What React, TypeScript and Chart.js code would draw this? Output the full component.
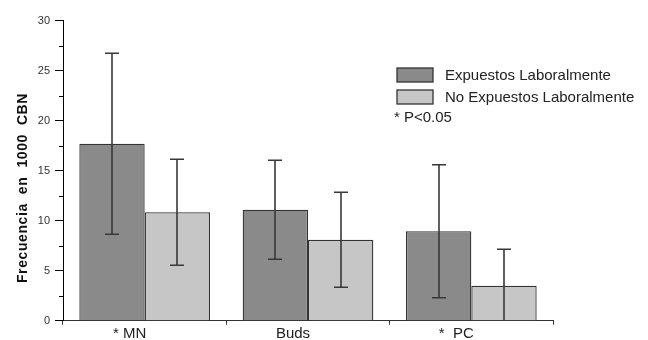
import React, { useEffect, useRef } from 'react';
import { Chart, registerables } from 'chart.js';

Chart.register(...registerables);

// ---- data ----
const categories = ['* MN', 'Buds', '*  PC'];
const seriesNames = ['Expuestos Laboralmente', 'No Expuestos Laboralmente'];
const expuestos = [17.7, 11.1, 8.95];
const expuestosErr = [9.05, 4.95, 6.65];
const noExpuestos = [10.85, 8.1, 3.5];
const noExpuestosErr = [5.3, 4.75, 3.65];
const yMin = 0;
const yMax = 30;
const yStep = 5;
const yTitle = 'Frecuencia  en  1000  CBN';
const noteText = '* P<0.05';

const errorsBySeries = [expuestosErr, noExpuestosErr];
const fillColors = ['#8a8a8a', '#c6c6c6'];

const FONT = '"Liberation Sans", Arial, sans-serif';

const errorBarsPlugin = {
  id: 'errorBars',
  afterDatasetsDraw(chart: any) {
    const { ctx, chartArea } = chart;
    const y = chart.scales.y;
    ctx.save();
    ctx.beginPath();
    ctx.rect(chartArea.left, chartArea.top, chartArea.right - chartArea.left, chartArea.bottom - chartArea.top);
    ctx.clip();
    ctx.strokeStyle = '#383838';
    ctx.lineWidth = 1.6;
    chart.data.datasets.forEach((ds: any, di: number) => {
      const meta = chart.getDatasetMeta(di);
      const errs = errorsBySeries[di];
      meta.data.forEach((bar: any, i: number) => {
        const v = ds.data[i];
        const e = errs[i];
        const x = Math.round(bar.x);
        const yt = y.getPixelForValue(v + e);
        const yb = y.getPixelForValue(v - e);
        ctx.beginPath();
        ctx.moveTo(x, yt);
        ctx.lineTo(x, yb);
        ctx.moveTo(x - 7, yt);
        ctx.lineTo(x + 7, yt);
        ctx.moveTo(x - 7, yb);
        ctx.lineTo(x + 7, yb);
        ctx.stroke();
      });
    });
    ctx.restore();
  },
};

const decorPlugin = {
  id: 'decor',
  afterDraw(chart: any) {
    const { ctx, chartArea } = chart;
    const y = chart.scales.y;
    ctx.save();
    // minor ticks on y axis
    ctx.strokeStyle = '#000';
    ctx.lineWidth = 1;
    for (let v = yMin + yStep / 2; v < yMax; v += yStep) {
      const py = Math.round(y.getPixelForValue(v)) + 0.5;
      ctx.beginPath();
      ctx.moveTo(chartArea.left - 4, py);
      ctx.lineTo(chartArea.left, py);
      ctx.stroke();
    }
    // y title
    ctx.save();
    ctx.translate(23, 188);
    ctx.rotate(-Math.PI / 2);
    ctx.font = `bold 14px ${FONT}`;
    ctx.fillStyle = '#111';
    ctx.textAlign = 'center';
    ctx.textBaseline = 'middle';
    try { (ctx as any).letterSpacing = '0.6px'; } catch (e) {}
    ctx.fillText(yTitle, 0, 0);
    ctx.restore();
    // legend
    ctx.font = `15px ${FONT}`;
    ctx.textAlign = 'left';
    ctx.textBaseline = 'middle';
    const boxX = 397;
    const rows = [75, 97];
    seriesNames.forEach((name, i) => {
      const cy = rows[i];
      ctx.fillStyle = fillColors[i];
      ctx.fillRect(boxX, cy - 7, 36, 14);
      ctx.strokeStyle = '#333';
      ctx.lineWidth = 1.3;
      ctx.strokeRect(boxX, cy - 7, 36, 14);
      ctx.fillStyle = '#222';
      ctx.fillText(name, 445, cy + 1);
    });
    ctx.fillStyle = '#222';
    ctx.fillText(noteText, 394, 118);
    ctx.restore();
  },
};

export default function App() {
  const ref = useRef<HTMLCanvasElement | null>(null);
  useEffect(() => {
    if (!ref.current) return;
    const chart = new Chart(ref.current, {
      type: 'bar',
      data: {
        labels: categories,
        datasets: [
          {
            label: seriesNames[0],
            data: expuestos,
            backgroundColor: fillColors[0],
            borderColor: '#333',
            borderWidth: 1.3,
            barPercentage: 1.0,
            categoryPercentage: 0.8,
          },
          {
            label: seriesNames[1],
            data: noExpuestos,
            backgroundColor: fillColors[1],
            borderColor: '#333',
            borderWidth: 1.3,
            barPercentage: 1.0,
            categoryPercentage: 0.8,
          },
        ],
      },
      options: {
        responsive: false,
        animation: false,
        devicePixelRatio: 1,
        layout: { padding: { top: 20.7, right: 95, left: 0, bottom: 0 } },
        plugins: {
          legend: { display: false },
          tooltip: { enabled: false },
          title: { display: false },
        },
        scales: {
          x: {
            afterFit: (s: any) => { s.height = 19.3; },
            grid: {
              display: true,
              drawOnChartArea: false,
              drawTicks: true,
              tickLength: 4,
              color: '#333',
              offset: true,
            },
            border: { display: true, color: '#333', width: 1 },
            ticks: {
              color: '#222',
              font: { family: FONT, size: 15 },
              padding: 0,
              labelOffset: -15,
              maxRotation: 0,
            },
          },
          y: {
            min: yMin,
            max: yMax,
            afterFit: (s: any) => { s.width = 63; },
            grid: {
              display: true,
              drawOnChartArea: false,
              drawTicks: true,
              tickLength: 8,
              color: '#000',
            },
            border: { display: true, color: '#000', width: 1 },
            ticks: {
              stepSize: yStep,
              color: '#333',
              font: { family: FONT, size: 11 },
              padding: 5,
            },
          },
        },
      },
      plugins: [errorBarsPlugin, decorPlugin],
    });
    return () => chart.destroy();
  }, []);
  return (
    <div style={{ position: 'absolute', left: 0, top: 0, width: 648, height: 340, background: '#fff' }}>
      <canvas ref={ref} width={648} height={340} style={{ display: 'block', width: 648, height: 340 }} />
    </div>
  );
}
